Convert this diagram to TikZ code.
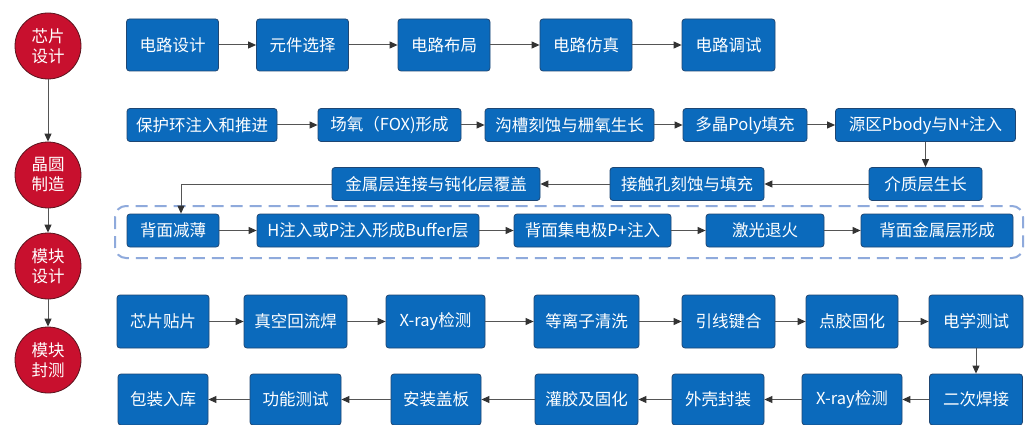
\documentclass[tikz,border=0pt]{standalone}
\usepackage{fontspec}
\newfontfamily\cjk{Noto Sans CJK SC}
\usetikzlibrary{arrows.meta}
\definecolor{boxblue}{RGB}{11,106,188}
\definecolor{boxedge}{RGB}{30,70,115}
\definecolor{circred}{RGB}{200,16,46}
\definecolor{circedge}{RGB}{90,20,30}
\definecolor{dashblue}{RGB}{143,170,220}
\definecolor{lineg}{RGB}{85,85,85}
\tikzset{
  bx/.style={draw=boxedge, fill=boxblue, line width=0.8pt, rounded corners=3pt,
    text=white, inner sep=0pt, font=\cjk\fontsize{16.5}{17}\selectfont, align=center},
  r1/.style={bx, minimum height=52pt},
  r2/.style={bx, minimum height=33pt},
  r5/.style={bx, minimum height=53pt},
  r6/.style={bx, minimum height=51pt},
  stage/.style={circle, draw=circedge, fill=circred, line width=0.8pt, minimum size=66pt,
    inner sep=0pt, text=white, font=\cjk\fontsize{16.5}{20}\selectfont, align=center},
  ar/.style={draw=lineg, line width=1pt, -{Triangle[length=8pt,width=7pt,color=black!80]}},
  grp/.style={draw=dashblue, line width=2pt, dash pattern=on 12pt off 7pt, rounded corners=11pt}
}
\begin{document}
\begin{tikzpicture}[x=1pt,y=-1pt]
\useasboundingbox[fill=white] (0,0) rectangle (1031,425);
\begin{scope}
\clip (0,0) rectangle (1031,425);
% stage circles
\node[stage] (s1) at (48,46) {芯片\\设计};
\node[stage] (s2) at (48,175) {晶圆\\制造};
\node[stage] (s3) at (48,266) {模块\\设计};
\node[stage] (s4) at (48,360) {模块\\封测};
\draw[ar] (s1) -- (s2);
\draw[ar] (s2) -- (s3);
\draw[ar] (s3) -- (s4);
% dashed group
\draw[grp] (115,206) rectangle (1023,258);
% row 1
\node[r1, minimum width=92pt] (a1) at (172.5,45) {电路设计};
\node[r1, minimum width=92pt] (a2) at (302.5,45) {元件选择};
\node[r1, minimum width=92pt] (a3) at (444,45) {电路布局};
\node[r1, minimum width=92pt] (a4) at (586,45) {电路仿真};
\node[r1, minimum width=93pt] (a5) at (728.5,45) {电路调试};
\draw[ar] (a1) -- (a2);
\draw[ar] (a2) -- (a3);
\draw[ar] (a3) -- (a4);
\draw[ar] (a4) -- (a5);
% row 2
\node[r2, minimum width=150pt] (b1) at (202,125) {保护环注入和推进};
\node[r2, minimum width=143pt] (b2) at (389.5,125) {场氧（FOX)形成};
\node[r2, minimum width=169pt] (b3) at (569.5,125) {沟槽刻蚀与栅氧生长};
\node[r2, minimum width=124pt] (b4) at (745,125) {多晶Poly填充};
\node[r2, minimum width=180pt] (b5) at (925.5,125) {源区Pbody与N+注入};
\draw[ar] (b1) -- (b2);
\draw[ar] (b2) -- (b3);
\draw[ar] (b3) -- (b4);
\draw[ar] (b4) -- (b5);
% row 3
\node[r2, minimum width=113pt] (c1) at (925.5,184) {介质层生长};
\node[r2, minimum width=154pt] (c2) at (687,184) {接触孔刻蚀与填充};
\node[r2, minimum width=208pt] (c3) at (436,184) {金属层连接与钝化层覆盖};
\draw[ar] (b5) -- (c1);
\draw[ar] (c1) -- (c2);
\draw[ar] (c2) -- (c3);
% row 4
\node[r2, minimum width=92pt] (d1) at (173,230.5) {背面减薄};
\node[r2, minimum width=222pt] (d2) at (368,230.5) {H注入或P注入形成Buffer层};
\node[r2, minimum width=157pt] (d3) at (592.5,230.5) {背面集电极P+注入};
\node[r2, minimum width=118pt] (d4) at (765,230.5) {激光退火};
\node[r2, minimum width=152pt] (d5) at (937,230.5) {背面金属层形成};
\coordinate (k) at (181,184);
\draw[ar] (c3.west) -- (k) -- (k |- d1.north);
\draw[ar] (d1) -- (d2);
\draw[ar] (d2) -- (d3);
\draw[ar] (d3) -- (d4);
\draw[ar] (d4) -- (d5);
% row 5
\node[r5, minimum width=92pt] (e1) at (163,321.5) {芯片贴片};
\node[r5, minimum width=103pt] (e2) at (295.5,321.5) {真空回流焊};
\node[r5, minimum width=99pt] (e3) at (435.5,321.5) {X-ray检测};
\node[r5, minimum width=105pt] (e4) at (586.5,321.5) {等离子清洗};
\node[r5, minimum width=93pt] (e5) at (728.5,321.5) {引线键合};
\node[r5, minimum width=92pt] (e6) at (852,321.5) {点胶固化};
\node[r5, minimum width=94pt] (e7) at (976,321.5) {电学测试};
\draw[ar] (e1) -- (e2);
\draw[ar] (e2) -- (e3);
\draw[ar] (e3) -- (e4);
\draw[ar] (e4) -- (e5);
\draw[ar] (e5) -- (e6);
\draw[ar] (e6) -- (e7);
% row 6
\node[r6, minimum width=93pt] (f1) at (976,399.5) {二次焊接};
\node[r6, minimum width=100pt] (f2) at (852,399.5) {X-ray检测};
\node[r6, minimum width=92pt] (f3) at (718,399.5) {外壳封装};
\node[r6, minimum width=103pt] (f4) at (586.5,399.5) {灌胶及固化};
\node[r6, minimum width=90pt] (f5) at (436,399.5) {安装盖板};
\node[r6, minimum width=91pt] (f6) at (295.5,399.5) {功能测试};
\node[r6, minimum width=90pt] (f7) at (163,399.5) {包装入库};
\draw[ar] (e7) -- (f1);
\draw[ar] (f1) -- (f2);
\draw[ar] (f2) -- (f3);
\draw[ar] (f3) -- (f4);
\draw[ar] (f4) -- (f5);
\draw[ar] (f5) -- (f6);
\draw[ar] (f6) -- (f7);
\end{scope}
\end{tikzpicture}
\end{document}
